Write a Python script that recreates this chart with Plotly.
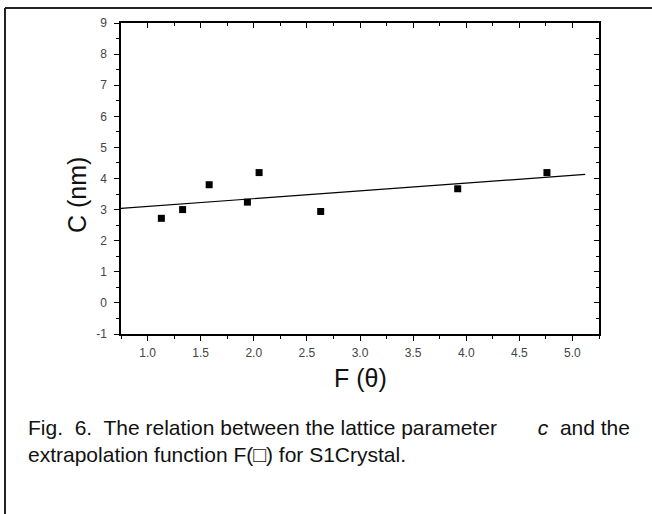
import plotly.graph_objects as go

# ---- data ----
f_theta = [1.13, 1.33, 1.58, 1.94, 2.05, 2.63, 3.92, 4.76]
c_nm = [2.72, 3.00, 3.80, 3.24, 4.19, 2.94, 3.67, 4.19]
fit_x = [0.75, 5.12]
fit_y = [3.04, 4.13]
x_ticks = [1.0, 1.5, 2.0, 2.5, 3.0, 3.5, 4.0, 4.5, 5.0]
x_tick_text = ["1.0", "1.5", "2.0", "2.5", "3.0", "3.5", "4.0", "4.5", "5.0"]
y_ticks = [-1, 0, 1, 2, 3, 4, 5, 6, 7, 8, 9]
y_tick_text = ["-1", "0", "1", "2", "3", "4", "5", "6", "7", "8", "9"]
caption_lines = [
    "Fig.\u00a0 6.\u00a0 The relation between the lattice parameter\u00a0\u00a0\u00a0\u00a0\u00a0\u00a0 <i>c</i>\u00a0 and the",
    "extrapolation function F(□) for S1Crystal.",
]

W, H = 652, 514
L, R, T, B = 121, 599, 23, 334  # plot area in pixels


def px(x):
    return (x - L) / (R - L)


def py(y):
    return (B - y) / (B - T)


FONT = "Liberation Sans, Arial, sans-serif"

fig = go.Figure()
fig.add_trace(go.Scatter(x=f_theta, y=c_nm, mode="markers",
                         marker=dict(symbol="square", size=7, color="black"),
                         showlegend=False))
fig.add_trace(go.Scatter(x=fit_x, y=fit_y, mode="lines", xaxis="x2", yaxis="y2",
                         line=dict(color="black", width=1.2), showlegend=False))

common = dict(showgrid=False, zeroline=False, showline=True, linecolor="black",
              linewidth=1.5, tickcolor="black", tickwidth=1.2)

fig.update_layout(
    width=W, height=H,
    margin=dict(l=L, r=W - R, t=T, b=H - B, autoexpand=False),
    paper_bgcolor="white", plot_bgcolor="white",
    font=dict(family=FONT, color="#333"),
    xaxis=dict(range=[0.75, 5.25], tickvals=x_ticks, ticktext=x_tick_text,
               ticks="outside", ticklen=5, ticklabelstandoff=2,
               minor=dict(ticks="outside", ticklen=3, dtick=0.25, tick0=0.75,
                          tickcolor="black", tickwidth=1),
               tickfont=dict(size=12, color="#444"), **common),
    yaxis=dict(range=[-1, 9], tickvals=y_ticks, ticktext=y_tick_text,
               ticks="outside", ticklen=5, ticklabelstandoff=5,
               minor=dict(ticks="outside", ticklen=3, dtick=0.5, tick0=0,
                          tickcolor="black", tickwidth=1),
               tickfont=dict(size=12, color="#444"), **common),
    xaxis2=dict(range=[0.75, 5.25], overlaying="x", side="top", anchor="y2",
                tickvals=x_ticks, ticks="inside", ticklen=5, showticklabels=False,
                minor=dict(ticks="inside", ticklen=3, dtick=0.25, tick0=0.75,
                           tickcolor="black", tickwidth=1), **common),
    yaxis2=dict(range=[-1, 9], overlaying="y", side="right", anchor="x2",
                tickvals=y_ticks, ticks="inside", ticklen=5, showticklabels=False,
                minor=dict(ticks="inside", ticklen=3, dtick=0.5, tick0=0,
                           tickcolor="black", tickwidth=1), **common),
)

annotations = [
    dict(text="F (θ)", x=px(360), y=py(378), xref="paper", yref="paper",
         showarrow=False, font=dict(size=25, color="#111", family=FONT),
         xanchor="center", yanchor="middle"),
    dict(text="C (nm)", x=px(77), y=py(195), xref="paper", yref="paper",
         showarrow=False, textangle=-90, font=dict(size=25, color="#111", family=FONT),
         xanchor="center", yanchor="middle"),
    dict(text="<br>".join(caption_lines),
         x=px(26), y=py(441), xref="paper", yref="paper", showarrow=False, align="left",
         font=dict(size=21, color="#111", family=FONT), xanchor="left", yanchor="middle"),
]
fig.update_layout(annotations=annotations)

shapes = [
    dict(type="line", xref="paper", yref="paper", x0=px(5), x1=px(652), y0=py(8), y1=py(8),
         line=dict(color="#222", width=2)),
    dict(type="line", xref="paper", yref="paper", x0=px(5), x1=px(5), y0=py(8), y1=py(514),
         line=dict(color="#222", width=2)),
]
fig.update_layout(shapes=shapes)

fig.write_html("out.html")
